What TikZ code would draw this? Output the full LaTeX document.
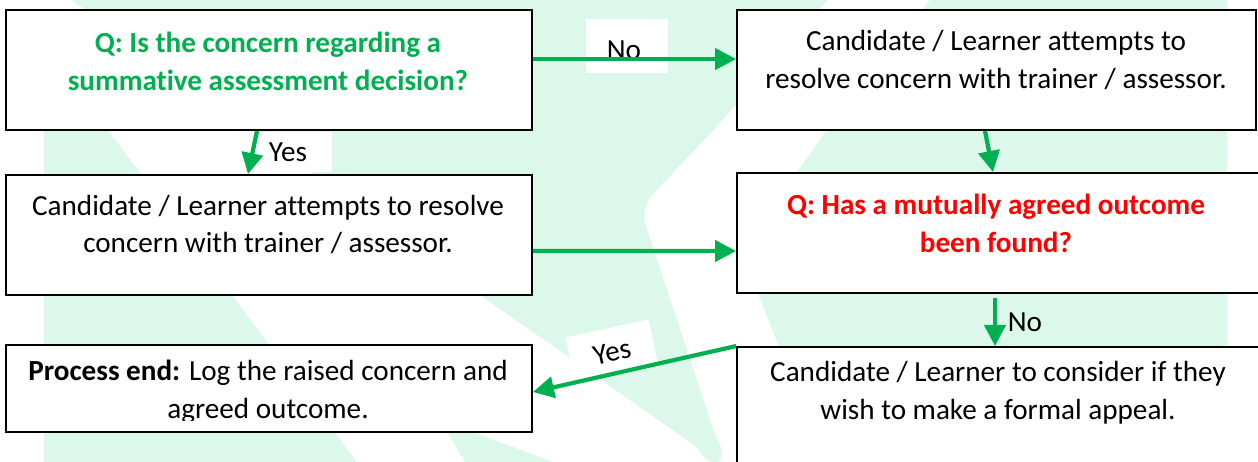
\documentclass[tikz,border=0pt]{standalone}
\usepackage{fontspec}
\setmainfont{Carlito}[Ligatures=NoCommon]
\usetikzlibrary{arrows.meta}
\definecolor{flowgreen}{RGB}{0,176,80}
\definecolor{qred}{RGB}{255,0,0}
\definecolor{wmark}{RGB}{220,248,234}
\tikzset{
  box/.style={shape=rectangle,draw=black,line width=1.1pt,fill=white},
  txt/.style={align=center,font=\fontsize{16.6}{21.5}\selectfont},
  txtb/.style={align=center,font=\fontsize{16.6}{21.5}\selectfont\bfseries},
  lbl/.style={fill=white,inner sep=0pt,font=\fontsize{16.6}{21.5}\selectfont},
  lbltxt/.style={inner sep=0pt,font=\fontsize{16.6}{21.5}\selectfont},
  flow/.style={draw=flowgreen,line width=2.4pt,-{Triangle[length=12pt,width=12pt]}},
}

\begin{document}
\begin{tikzpicture}[x=0.02cm,y=-0.02cm]
	\useasboundingbox (0,0) rectangle (1258,462);
	% watermark
	\fill[wmark] (44,45) -- (44,470) -- (363,470) -- cycle;
	\fill[wmark] (44,-20) -- (845,-20) -- (718,125) [rounded corners=10pt] -- (640,208) [sharp corners] -- (715,435) .. controls (735,468) and (708,470) .. (698,448) -- (483,297) -- cycle;
	\fill[wmark] (946,-20) -- (830,125) -- (795,175) [rounded corners=8pt] -- (748,268) [sharp corners] -- (780,350) -- (815,470) -- (1227,470) -- (1227,-20) -- cycle;
	\fill[wmark] (440,420) -- (470,470) -- (575,470) -- cycle;

	% boxes
	\node[box,minimum width=10.52cm,minimum height=2.40cm] (qsum)   at (269,70)    {};
	\node[box,minimum width=10.38cm,minimum height=2.40cm] (resR)   at (996.5,70)  {};
	\node[box,minimum width=10.52cm,minimum height=2.40cm] (resL)   at (269,235)   {};
	\node[box,minimum width=10.54cm,minimum height=2.40cm] (qagr)   at (1000.5,233) {};
	\node[box,minimum width=10.52cm,minimum height=1.74cm] (pend)   at (269,388.5) {};
	\node[box,minimum width=10.54cm,minimum height=2.66cm] (appeal) at (1000.5,413.5) {};

	\node[txtb,text=flowgreen] (qsumtxt) at (268,61)  {Q: Is the concern regarding a\\summative assessment decision?};
	\node[txt]                 (resRtxt) at (996,60)  {Candidate / Learner attempts to\\resolve concern with trainer / assessor.};
	\node[txt]                 (resLtxt) at (268,224.5) {Candidate / Learner attempts to resolve\\concern with trainer / assessor.};
	\node[txtb,text=qred]      (qagrtxt) at (996,223) {Q: Has a mutually agreed outcome\\been found?};
	\begin{scope}
		\clip (6,345) rectangle (532,421);
		\node[txt] (pendtxt) at (268,392) {\textbf{Process end:} Log the raised concern and\\agreed outcome.};
	\end{scope}
	\node[txt]                 (appealtxt) at (998,393) {Candidate / Learner to consider if they\\wish to make a formal appeal.};

	% labels
	\node[lbl,minimum width=1.66cm,minimum height=1.08cm,
	      label={[lbltxt,xshift=-0.06cm,yshift=-0.09cm]center:No}] (nolbl)  at (627,46)  {};
	\node[lbl,minimum width=1.40cm,minimum height=0.82cm,
	      label={[lbltxt,xshift=-0.18cm]center:Yes}] (yeslbl) at (297,152) {};
	\node[lbl,rotate=12.3,minimum width=1.70cm,minimum height=0.96cm] (yeslbl2) at (612,352) {Yes};
	\node[lbltxt] (nolbl2) at (1025,322) {No};

	% arrows
	\draw[flow] ([yshift=0.22cm]qsum.east) -- ([yshift=0.22cm]resR.west);
	\draw[flow] ([xshift=-0.24cm]qsum.south) -- ([xshift=-0.42cm]resL.north);
	\draw[flow] ([xshift=-0.23cm]resR.south) -- ([xshift=-0.15cm]qagr.north);
	\draw[flow] ([yshift=-0.32cm]resL.east) -- ([yshift=-0.36cm]qagr.west);
	\draw[flow] ([xshift=-0.11cm,yshift=-0.08cm]qagr.south) -- ([xshift=-0.11cm]appeal.north);
	\draw[flow] (appeal.north west) -- ([yshift=-0.07cm]pend.east);
\end{tikzpicture}
\end{document}
